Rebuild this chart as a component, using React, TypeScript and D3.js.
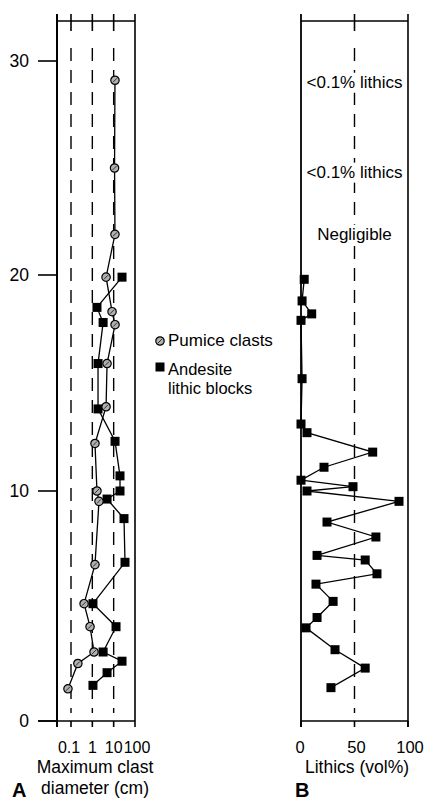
import React from 'react';
import * as d3 from 'd3';

const DEPTH_TICKS = [0, 10, 20, 30];
const DIAM_TICKS = [0.1, 1, 10, 100];
const DIAM_TICK_LABELS = ['0.1', '1', '10', '100'];
const VOL_TICKS = [0, 50, 100];

const PUMICE_DEPTH = [29.1, 25.0, 21.9, 19.9, 18.3, 17.7, 15.9, 13.9, 12.2, 10.0, 9.55, 6.8, 5.1, 4.1, 3.0, 2.5, 1.4];
const PUMICE_DIAM = [11.5, 11, 11.5, 4.4, 8.4, 11.6, 4.9, 4.4, 1.33, 1.65, 2.05, 1.33, 0.41, 0.78, 1.2, 0.21, 0.072];

const LITHIC_DEPTH = [19.9, 18.5, 17.8, 15.9, 13.8, 12.3, 10.7, 10.0, 9.65, 8.8, 6.9, 5.1, 4.1, 3.0, 2.6, 2.1, 1.55];
const LITHIC_DIAM = [24.6, 1.65, 3.2, 1.85, 1.85, 11.6, 19.8, 19.8, 4.9, 30.5, 34, 1.07, 12.9, 3.2, 24.6, 4.9, 1.07];

const VOL_DEPTH = [19.8, 18.8, 18.2, 17.9, 15.2, 13.1, 12.7, 11.8, 11.1, 10.5, 10.2, 10.0, 9.55, 8.65, 8.0, 7.2, 7.0, 6.4, 5.95, 5.2, 4.5, 4.05, 3.1, 2.3, 1.45];
const VOL_PCT = [3, 1, 10, 0, 1, 0, 5.6, 67, 21.5, 0, 48.6, 5.6, 91.6, 24.3, 70, 15, 60, 71, 14, 30, 15, 4.7, 31.8, 60, 28];

const NOTES = [
  { depth: 28.75, text: '<0.1% lithics' },
  { depth: 24.55, text: '<0.1% lithics' },
  { depth: 21.65, text: 'Negligible' },
];

const FONT = "'Liberation Sans', Arial, Helvetica, sans-serif";

const App = () => {
  const W = 424;
  const H = 801;
  const top = 21;
  const leftA = 57;
  const rightA = 135;

  // the scanned figure's depth axis is not quite even, so keep its tick positions
  const y = d3.scaleLinear().domain(DEPTH_TICKS).range([721, 491, 275, 61]);
  const xA = d3.scaleLog().domain([0.1, 100]).range([71, 135]);
  const xB = d3.scaleLinear().domain([0, 100]).range([301, 408]);
  const bottom = y(0);

  const pumice = PUMICE_DEPTH.map((d, i) => ({ depth: d, v: PUMICE_DIAM[i] }));
  const lithic = LITHIC_DEPTH.map((d, i) => ({ depth: d, v: LITHIC_DIAM[i] }));
  const vol = VOL_DEPTH.map((d, i) => ({ depth: d, v: VOL_PCT[i] }));

  const lineA = d3.line<{ depth: number; v: number }>().x(d => xA(d.v)).y(d => y(d.depth));
  const lineB = d3.line<{ depth: number; v: number }>().x(d => xB(d.v)).y(d => y(d.depth));

  const circle = (cx: number, cy: number, key: string | number) => (
    <g key={key} transform={`translate(${cx},${cy})`}>
      <circle r={4.2} fill="#b0b0b0" stroke="#000" strokeWidth={1.2} />
      <line x1={-2} y1={2} x2={2} y2={-2} stroke="#222" strokeWidth={0.9} />
    </g>
  );
  const square = (cx: number, cy: number, key: string | number) => (
    <rect key={key} x={cx - 4.5} y={cy - 4.5} width={9} height={9} fill="#000" />
  );

  const leftB = xB(0);
  const rightB = xB(100);

  return (
    <svg width={W} height={H} style={{ position: 'absolute', left: 0, top: 0, background: '#fff' }} fontFamily={FONT}>
      {/* panel A frame */}
      <g stroke="#000" fill="none">
        <line x1={leftA} y1={top - 7} x2={leftA} y2={bottom + 6} strokeWidth={2} />
        <line x1={rightA} y1={top - 7} x2={rightA} y2={bottom + 6} strokeWidth={1.6} />
        <line x1={leftA} y1={top} x2={rightA} y2={top} strokeWidth={1.6} />
        <line x1={38} y1={bottom} x2={rightA} y2={bottom} strokeWidth={1.6} />
        {DIAM_TICKS.slice(0, 3).map(t => (
          <g key={t}>
            <line x1={xA(t)} y1={top - 7} x2={xA(t)} y2={top + 10} strokeWidth={1.6} />
            <line x1={xA(t)} y1={top + 27} x2={xA(t)} y2={bottom - 8} strokeWidth={1.4} strokeDasharray="13,9" />
            <line x1={xA(t)} y1={bottom} x2={xA(t)} y2={bottom + 6} strokeWidth={1.6} />
          </g>
        ))}
        {DEPTH_TICKS.map(t => (
          <line key={t} x1={38} y1={y(t)} x2={leftA} y2={y(t)} strokeWidth={1.6} />
        ))}
      </g>
      {DEPTH_TICKS.map(t => (
        <text key={t} x={29} y={y(t)} dy="0.36em" textAnchor="end" fontSize={17.5}>{t}</text>
      ))}

      <path d={lineA(pumice) ?? ''} fill="none" stroke="#000" strokeWidth={1.3} />
      <path d={lineA(lithic) ?? ''} fill="none" stroke="#000" strokeWidth={1.3} />
      {lithic.map((d, i) => square(xA(d.v), y(d.depth), 'l' + i))}
      {pumice.map((d, i) => circle(xA(d.v), y(d.depth), 'p' + i))}

      {DIAM_TICKS.map((t, i) => (
        <text key={t} x={xA(t) - (i === 0 ? 2 : 0) + (i === 3 ? 2 : 0)} y={753} textAnchor="middle" fontSize={16}>{DIAM_TICK_LABELS[i]}</text>
      ))}
      <text x={95} y={773} textAnchor="middle" fontSize={17.5}>Maximum clast</text>
      <text x={95} y={794} textAnchor="middle" fontSize={17.5}>diameter (cm)</text>
      <text x={12} y={797} fontSize={20} fontWeight="bold">A</text>

      {/* legend */}
      {circle(160, 341, 'legc')}
      <text x={168} y={346} fontSize={17}>Pumice clasts</text>
      {square(160, 367, 'legs')}
      <text x={168} y={375} fontSize={16.5}>Andesite</text>
      <text x={168} y={394} fontSize={16.5}>lithic blocks</text>

      {/* panel B frame */}
      <g stroke="#000" fill="none">
        <line x1={leftB} y1={top - 7} x2={leftB} y2={bottom + 6} strokeWidth={1.8} />
        <line x1={rightB} y1={top - 7} x2={rightB} y2={bottom + 6} strokeWidth={1.6} />
        <line x1={leftB} y1={top} x2={rightB} y2={top} strokeWidth={1.6} />
        <line x1={leftB} y1={bottom} x2={rightB} y2={bottom} strokeWidth={1.6} />
        <line x1={xB(50)} y1={top - 7} x2={xB(50)} y2={top + 10} strokeWidth={1.6} />
        <line x1={xB(50)} y1={top + 27} x2={xB(50)} y2={bottom - 8} strokeWidth={1.4} strokeDasharray="13,9" />
        {VOL_TICKS.map(t => (
          <line key={t} x1={xB(t)} y1={bottom} x2={xB(t)} y2={bottom + 6} strokeWidth={1.6} />
        ))}
      </g>
      {NOTES.map((n, i) => (
        <g key={i}>
          <rect x={xB(50) - 2} y={y(n.depth) - 15} width={4} height={20} fill="#fff" />
          <text x={xB(50)} y={y(n.depth)} textAnchor="middle" fontSize={17}>{n.text}</text>
        </g>
      ))}
      <path d={lineB(vol) ?? ''} fill="none" stroke="#000" strokeWidth={1.3} />
      {vol.map((d, i) => square(xB(d.v), y(d.depth), 'v' + i))}

      {VOL_TICKS.map(t => (
        <text key={t} x={xB(t) + (t === 0 ? -1 : 2)} y={753} textAnchor="middle" fontSize={16.5}>{t}</text>
      ))}
      <text x={357} y={773} textAnchor="middle" fontSize={17.5}>Lithics (vol%)</text>
      <text x={295} y={797} fontSize={20} fontWeight="bold">B</text>
    </svg>
  );
};

export default App;
